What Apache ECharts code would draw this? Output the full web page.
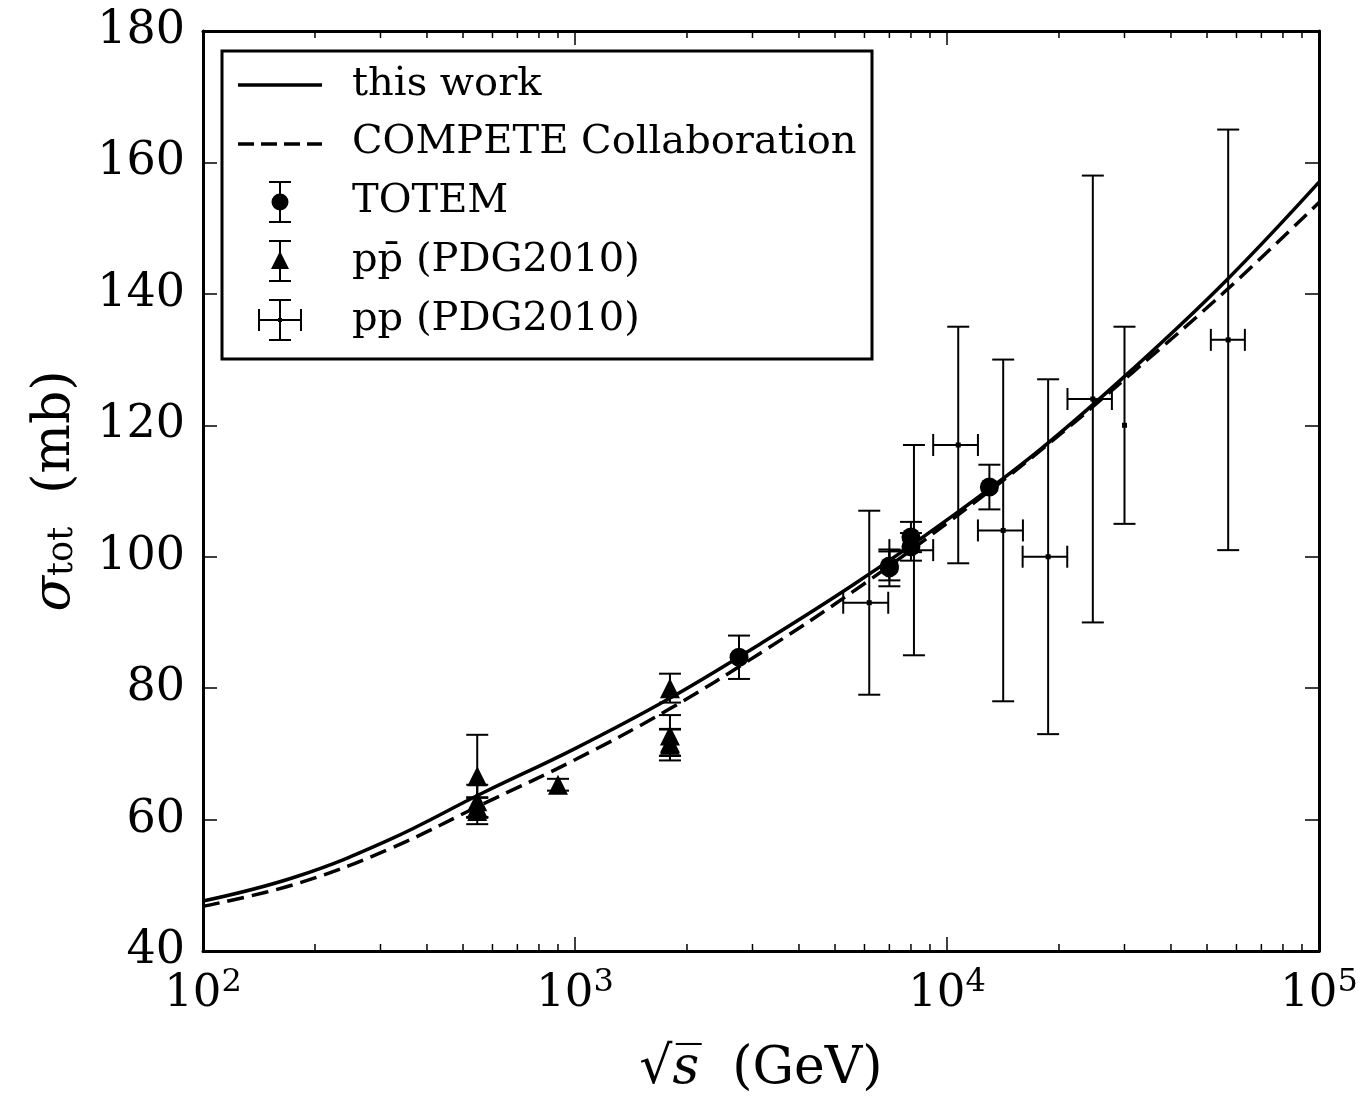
<!DOCTYPE html>
<html><head><meta charset="utf-8">
<script src="https://cdn.jsdelivr.net/npm/echarts@6/dist/echarts.min.js"></script>
<style>html,body{margin:0;padding:0;background:#fff}#c{width:1363px;height:1100px}</style>
</head><body><div id="c"></div>
<script>
// ---- data ----
const curveX      = [100, 177.8, 316.2, 562.3, 1000, 1778, 3162, 5623, 10000, 17783, 31623, 56234, 100000];
const thisWork    = [47.6, 51.3, 56.9, 64.0, 70.8, 78.3, 86.8, 95.8, 105.6, 116.3, 128.6, 142.0, 157.0];
const compete     = [46.8, 50.2, 55.5, 62.3, 69.1, 76.7, 85.4, 94.8, 105.1, 116.1, 128.1, 140.5, 153.9];

const totemX   = [2760, 7000, 7000, 8000, 8000, 13000];
const totemY   = [84.7, 98.3, 98.6, 101.5, 103.0, 110.6];
const totemErr = [3.3, 2.8, 2.2, 2.1, 2.3, 3.4];

const ppbarX   = [546, 546, 546, 546, 900, 1800, 1800, 1800, 1800];
const ppbarY   = [66.6, 62.8, 61.9, 61.3, 65.3, 80.0, 72.8, 71.7, 71.4];
const ppbarErr = [6.3, 2.5, 1.5, 2.0, 0.9, 2.2, 3.1, 2.0, 2.4];

const ppX     = [6180, 8150, 10720, 14160, 18700, 24660, 30000, 57000];
const ppY     = [93, 101, 117, 104, 100, 124, 120, 133];
const ppYErr  = [14, 16, 18, 26, 27, 34, 15, 32];
const ppXLow  = [5260, 7000, 9180, 12110, 15970, 21080, 30000, 51200];
const ppXHigh = [6950, 9180, 12110, 16000, 21050, 27750, 30000, 63200];

const xMinorTicks = [200,300,400,500,600,700,800,900,2000,3000,4000,5000,6000,7000,8000,9000,
                     20000,30000,40000,50000,60000,70000,80000,90000];

// ---- chart ----
const FONT = 'DejaVu Serif';
const chart = echarts.init(document.getElementById('c'), null, {renderer:'canvas'});
const blk = {stroke:'#000', lineWidth:2};

function vErr(params, api){
  const x = api.value(0), y = api.value(1), e = api.value(2);
  const t = api.coord([x, y+e]), b = api.coord([x, y-e]);
  const w = 11;
  return {type:'group', children:[
    {type:'line', shape:{x1:t[0],y1:t[1],x2:b[0],y2:b[1]}, style:blk},
    {type:'line', shape:{x1:t[0]-w,y1:t[1],x2:t[0]+w,y2:t[1]}, style:blk},
    {type:'line', shape:{x1:b[0]-w,y1:b[1],x2:b[0]+w,y2:b[1]}, style:blk}
  ]};
}
function xyErr(params, api){
  const x = api.value(0), y = api.value(1), e = api.value(2), xl = api.value(3), xh = api.value(4);
  const t = api.coord([x, y+e]), b = api.coord([x, y-e]);
  const l = api.coord([xl, y]), r = api.coord([xh, y]);
  const w = 11;
  const ch = [
    {type:'line', shape:{x1:t[0],y1:t[1],x2:b[0],y2:b[1]}, style:blk},
    {type:'line', shape:{x1:t[0]-w,y1:t[1],x2:t[0]+w,y2:t[1]}, style:blk},
    {type:'line', shape:{x1:b[0]-w,y1:b[1],x2:b[0]+w,y2:b[1]}, style:blk}
  ];
  if (r[0]-l[0] > 1) {
    ch.push({type:'line', shape:{x1:l[0],y1:l[1],x2:r[0],y2:r[1]}, style:blk});
    ch.push({type:'line', shape:{x1:l[0],y1:l[1]-w,x2:l[0],y2:l[1]+w}, style:blk});
    ch.push({type:'line', shape:{x1:r[0],y1:r[1]-w,x2:r[0],y2:r[1]+w}, style:blk});
  }
  return {type:'group', children:ch};
}
function minorTick(params, api){
  const v = api.value(0);
  const b = api.coord([v, 40]), t = api.coord([v, 180]);
  const s = {stroke:'#000', lineWidth:1.5};
  return {type:'group', children:[
    {type:'line', shape:{x1:b[0],y1:b[1],x2:b[0],y2:b[1]-7}, style:s},
    {type:'line', shape:{x1:t[0],y1:t[1],x2:t[0],y2:t[1]+7}, style:s}
  ]};
}

const axisLineStyle = {show:true, lineStyle:{color:'#000', width:3}};
const majorTick = {show:true, inside:true, length:14, lineStyle:{color:'#000', width:1.5}};
const legFont = '40px "DejaVu Serif"';

const option = {
  backgroundColor:'#fff',
  animation:false,
  grid:{left:203, top:31, right:44, bottom:145, containLabel:false},
  xAxis:[{
    type:'log', logBase:10, min:100, max:100000, position:'bottom',
    axisLine:axisLineStyle, axisTick:majorTick, splitLine:{show:false},
    axisLabel:{margin:16, color:'#000',
      formatter:function(v){ return '{b|10}{s|' + Math.round(Math.log10(v)) + '}'; },
      rich:{ b:{fontFamily:FONT, fontSize:45, color:'#000'},
             s:{fontFamily:FONT, fontSize:32, color:'#000', padding:[0,0,22,0]} } },
    name:'{r|√}{s|s\u0305}{g|  (GeV)}', nameLocation:'middle', nameGap:92,
    nameTextStyle:{rich:{ r:{fontFamily:FONT, fontSize:52, color:'#000'},
                          s:{fontFamily:FONT, fontSize:52, fontStyle:'italic', color:'#000'},
                          g:{fontFamily:FONT, fontSize:52, color:'#000'} }}
  },{
    type:'log', logBase:10, min:100, max:100000, position:'top',
    axisLine:axisLineStyle, axisTick:majorTick, axisLabel:{show:false}, splitLine:{show:false}
  }],
  yAxis:[{
    type:'value', min:40, max:180, interval:20, position:'left',
    axisLine:axisLineStyle, axisTick:majorTick, splitLine:{show:false},
    axisLabel:{margin:18, color:'#000', fontFamily:FONT, fontSize:46},
    name:'{sg|σ}{t|tot}{g|  (mb)}', nameLocation:'middle', nameGap:122, nameRotate:90,
    nameTextStyle:{rich:{ sg:{fontFamily:FONT, fontSize:52, fontStyle:'italic', color:'#000'},
                          t:{fontFamily:FONT, fontSize:35, color:'#000', padding:[16,0,0,0]},
                          g:{fontFamily:FONT, fontSize:52, color:'#000'} }}
  },{
    type:'value', min:40, max:180, interval:20, position:'right',
    axisLine:axisLineStyle, axisTick:majorTick, axisLabel:{show:false}, splitLine:{show:false}
  }],
  series:[
    {type:'custom', name:'minor', renderItem:minorTick, data:xMinorTicks.map(v=>[v, 40]),
     encode:{x:0, y:1}, silent:true, z:1, clip:false},
    {type:'line', name:'this work', data:curveX.map((x,i)=>[x, thisWork[i]]), smooth:0.4,
     showSymbol:false, symbol:'none', lineStyle:{color:'#000', width:3.5}, z:3},
    {type:'line', name:'COMPETE Collaboration', data:curveX.map((x,i)=>[x, compete[i]]), smooth:0.4,
     showSymbol:false, symbol:'none', lineStyle:{color:'#000', width:3.5, type:[17,8]}, z:3},
    {type:'custom', name:'TOTEM err', renderItem:vErr, encode:{x:0, y:1},
     data:totemX.map((x,i)=>[x, totemY[i], totemErr[i]]), z:4},
    {type:'scatter', name:'TOTEM', symbol:'circle', symbolSize:19, itemStyle:{color:'#000', opacity:1},
     data:totemX.map((x,i)=>[x, totemY[i]]), z:5},
    {type:'custom', name:'ppbar err', renderItem:vErr, encode:{x:0, y:1},
     data:ppbarX.map((x,i)=>[x, ppbarY[i], ppbarErr[i]]), z:4},
    {type:'scatter', name:'pp̄ (PDG2010)', symbol:'triangle', symbolSize:20, itemStyle:{color:'#000', opacity:1},
     data:ppbarX.map((x,i)=>[x, ppbarY[i]]), z:5},
    {type:'custom', name:'pp err', renderItem:xyErr, encode:{x:0, y:1},
     data:ppX.map((x,i)=>[x, ppY[i], ppYErr[i], ppXLow[i], ppXHigh[i]]), z:4},
    {type:'scatter', name:'pp (PDG2010)', symbol:'rect', symbolSize:5, itemStyle:{color:'#000', opacity:1},
     data:ppX.map((x,i)=>[x, ppY[i]]), z:5}
  ],
  graphic:[
      {type:'rect', z:100, shape:{x:222, y:51, width:650, height:308}, style:{fill:'#fff', stroke:'#000', lineWidth:3}},
      {type:'line', z:101, shape:{x1:238,y1:85,x2:322,y2:85}, style:{stroke:'#000', lineWidth:3.5}},
      {type:'line', z:101, shape:{x1:238,y1:144,x2:322,y2:144}, style:{stroke:'#000', lineWidth:3.5, lineDash:[16,7]}},
      {type:'line', z:101, shape:{x1:280,y1:182,x2:280,y2:222}, style:blk},
      {type:'line', z:101, shape:{x1:269,y1:182,x2:291,y2:182}, style:blk},
      {type:'line', z:101, shape:{x1:269,y1:222,x2:291,y2:222}, style:blk},
      {type:'circle', z:101, shape:{cx:280, cy:202, r:8.5}, style:{fill:'#000'}},
      {type:'line', z:101, shape:{x1:280,y1:241,x2:280,y2:281}, style:blk},
      {type:'line', z:101, shape:{x1:269,y1:241,x2:291,y2:241}, style:blk},
      {type:'line', z:101, shape:{x1:269,y1:281,x2:291,y2:281}, style:blk},
      {type:'polygon', z:101, shape:{points:[[280,251],[271,269],[289,269]]}, style:{fill:'#000'}},
      {type:'line', z:101, shape:{x1:280,y1:300,x2:280,y2:340}, style:blk},
      {type:'line', z:101, shape:{x1:269,y1:300,x2:291,y2:300}, style:blk},
      {type:'line', z:101, shape:{x1:269,y1:340,x2:291,y2:340}, style:blk},
      {type:'line', z:101, shape:{x1:259,y1:320,x2:301,y2:320}, style:blk},
      {type:'line', z:101, shape:{x1:259,y1:309,x2:259,y2:331}, style:blk},
      {type:'line', z:101, shape:{x1:301,y1:309,x2:301,y2:331}, style:blk},
      {type:'rect', z:101, shape:{x:278, y:318, width:4, height:4}, style:{fill:'#000'}},
      {type:'text', z:101, x:352, y:85, style:{text:'this work', font:legFont, fill:'#000', verticalAlign:'middle'}},
      {type:'text', z:101, x:352, y:143, style:{text:'COMPETE Collaboration', font:legFont, fill:'#000', verticalAlign:'middle'}},
      {type:'text', z:101, x:352, y:202, style:{text:'TOTEM', font:legFont, fill:'#000', verticalAlign:'middle'}},
      {type:'text', z:101, x:352, y:261, style:{text:'pp\u0304 (PDG2010)', font:legFont, fill:'#000', verticalAlign:'middle'}},
      {type:'text', z:101, x:352, y:320, style:{text:'pp (PDG2010)', font:legFont, fill:'#000', verticalAlign:'middle'}}
  ]
};
chart.setOption(option);
</script></body></html>
